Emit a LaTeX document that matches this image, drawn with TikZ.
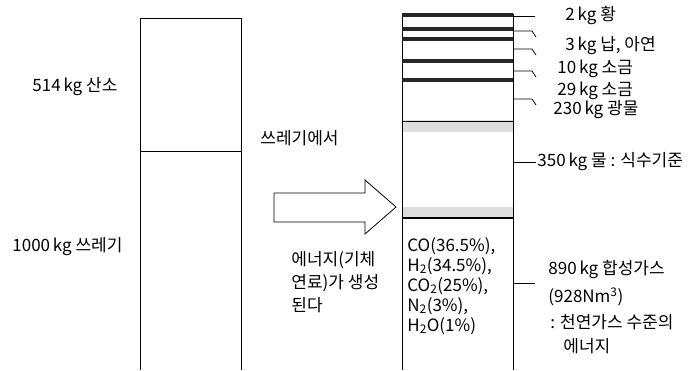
\documentclass[tikz,border=0pt]{standalone}
\usepackage{fontspec}
\setmainfont{Noto Sans CJK KR}
\usepackage{xcolor}
\definecolor{band}{rgb}{0.15,0.15,0.15}
\definecolor{stipple}{rgb}{0.87,0.87,0.87}
\usetikzlibrary{positioning}
\usetikzlibrary{calc}

\tikzset{
  lbl/.style={right, inner sep=0pt, font=\fontsize{17}{21}\selectfont},
  lead/.style={line width=0.7pt},
  layer/.style={line width=3.4pt, color=band}
}

\begin{document}
\begin{tikzpicture}[x=1pt, y=-1pt, line width=0.8pt]
  \useasboundingbox (0,0) rectangle (694,370);

  % Input column
  \draw (140,370) -- (140,18) -- (241,18) -- (241,370);
  \draw (140,151) -- (241,151);
  \node[lbl] (oxy) at (32,87) {514\,kg 산소};
  \node[lbl] (waste) at (12,247) {1000\,kg 쓰레기};

  % Arrow
  \draw[fill=white] (274,193) -- (365,193) -- (365,180) -- (396,207) -- (365,234) -- (365,222) -- (274,222) -- cycle;
  \node[lbl] (from) at (260,138) {쓰레기에서};
  \node[lbl, align=left, font=\fontsize{17}{23}\selectfont] (energy) at (291,282) {에너지(기체\\연료)가 생성\\된다};

  % Output column
    % water layer
    \fill[stipple] (402,120) rectangle (513,132);
    \fill[stipple] (402,207) rectangle (513,218);
    \draw (402,370) -- (402,14) -- (513,14) -- (513,370);
    \foreach \y in {15,29,39,61,80}
      \draw[layer] (402,\y) -- (513,\y);
    \draw (402,121) -- (513,121);
    \draw[line width=1.2pt] (402,218) -- (513,218);

    % leader lines
    \coordinate (s1) at (513,16);
    \coordinate (s2) at (513,31);
    \coordinate (s3) at (513,49);
    \coordinate (s4) at (513,71);
    \coordinate (s5) at (513,99);
    \coordinate (s6) at (513,162);
    \coordinate (s7) at (513,283);
    \draw[lead] (s1) -- ++(22,0);
    \foreach \s in {s2,s3,s4,s5}
      \draw[lead] (\s) -- ++(19,0) -- ++(4,6);
    \draw[lead] (s6) -- ++(23,0);
    \draw[lead] (s7) -- ++(22,0);

    \node[lbl] (sulfur) at (565,16) {2\,kg 황};
    \node[lbl] (lead) at (565,46) {3\,kg 납, 아연};
    \node[lbl] (salta) at (557,69) {10\,kg 소금};
    \node[lbl] (saltb) at (557,91) {29\,kg 소금};
    \node[lbl] (mineral) at (553,110) {230\,kg 광물};
    \node[lbl] (water) at (537,162) {350\,kg 물 : 식수기준};

    % syngas
    \node[lbl, align=left, font=\fontsize{17}{20}\selectfont] (gases) at (407,286) {CO(36.5\%),\\H\textsubscript{2}(34.5\%),\\CO\textsubscript{2}(25\%),\\N\textsubscript{2}(3\%),\\H\textsubscript{2}O(1\%)};
    \node[lbl] (syngas) at (548,270) {890\,kg 합성가스};
    \node[lbl] (volume) at (548,297) {(928Nm\textsuperscript{3})};
    \node[lbl] (natgas) at (550,322) {: 천연가스 수준의};
    \node[lbl] (natgasb) at (563,346) {에너지};

\end{tikzpicture}
\end{document}
